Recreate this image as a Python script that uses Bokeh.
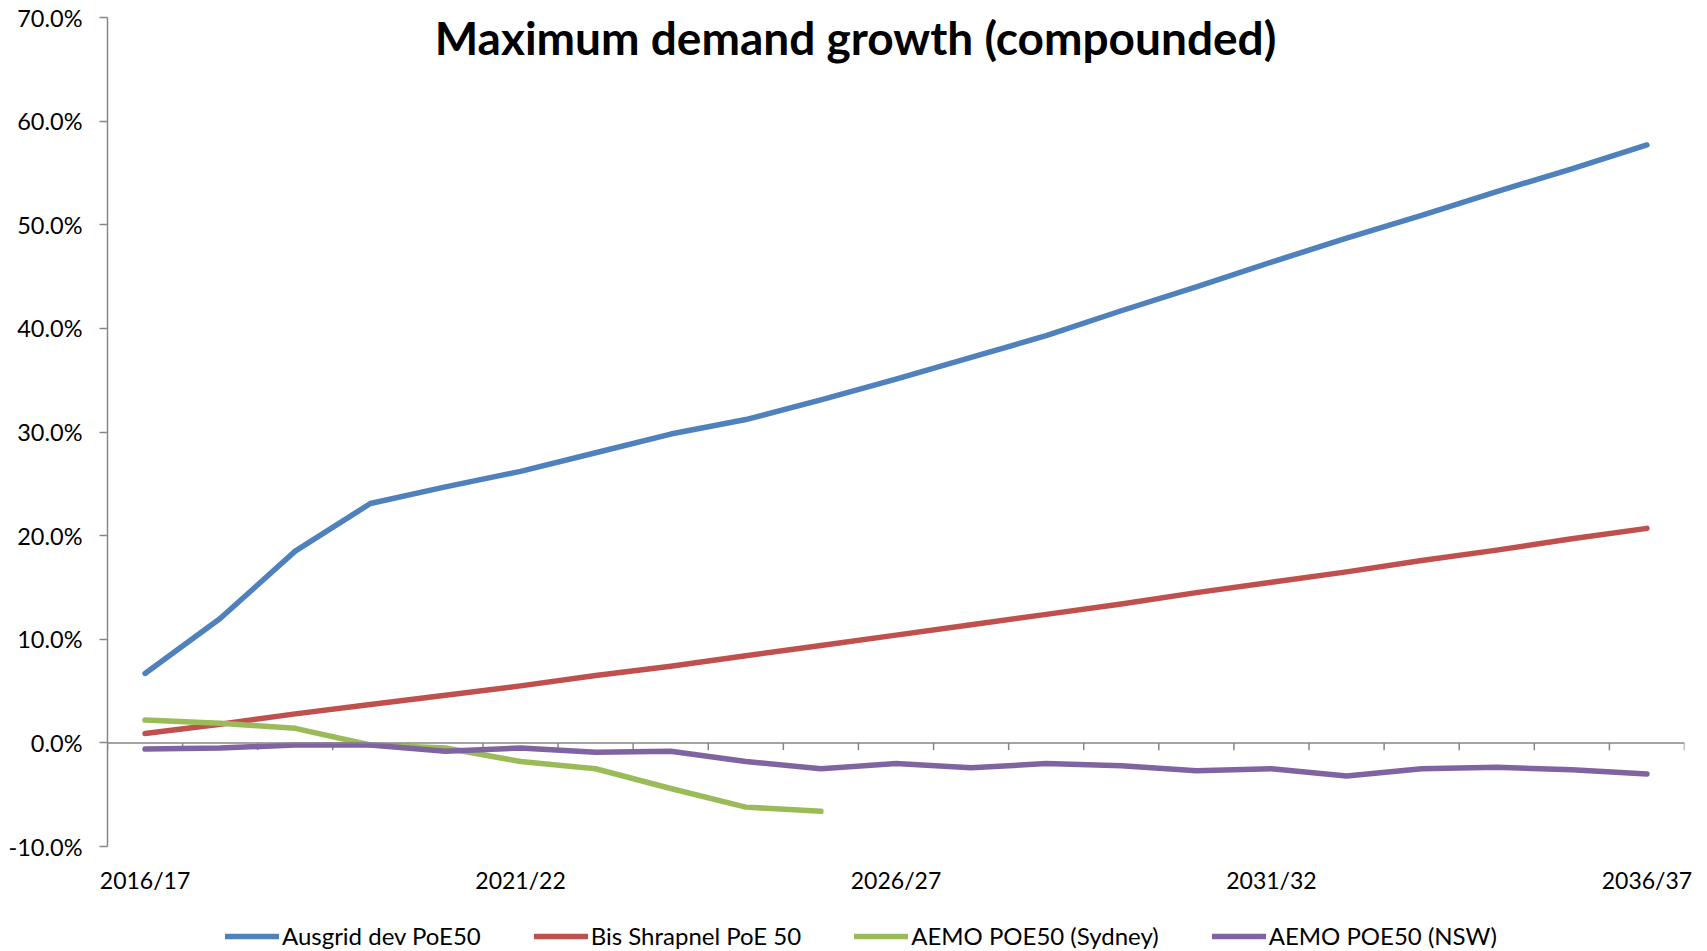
from bokeh.plotting import figure
from bokeh.models import (Range1d, FixedTicker, PrintfTickFormatter, Span, Label,
                          Legend, LegendItem)
from bokeh.layouts import column
from bokeh.embed import file_html
from bokeh.resources import INLINE

categories = ["2016/17", "2017/18", "2018/19", "2019/20", "2020/21", "2021/22", "2022/23",
              "2023/24", "2024/25", "2025/26", "2026/27", "2027/28", "2028/29", "2029/30",
              "2030/31", "2031/32", "2032/33", "2033/34", "2034/35", "2035/36", "2036/37"]
ausgrid = [6.7, 12.0, 18.5, 23.1, 24.7, 26.2, 28.0, 29.8, 31.2, 33.1, 35.1, 37.2, 39.3,
           41.7, 44.0, 46.4, 48.7, 50.9, 53.2, 55.4, 57.7]
bis = [0.9, 1.8, 2.8, 3.7, 4.6, 5.5, 6.5, 7.4, 8.4, 9.4, 10.4, 11.4, 12.4, 13.4, 14.5,
       15.5, 16.5, 17.6, 18.6, 19.7, 20.7]
aemo_syd = [2.2, 1.9, 1.4, -0.2, -0.5, -1.8, -2.5, -4.4, -6.2, -6.6]
aemo_nsw = [-0.6, -0.5, -0.2, -0.2, -0.8, -0.5, -0.9, -0.8, -1.8, -2.5, -2.0, -2.4, -2.0,
            -2.2, -2.7, -2.5, -3.2, -2.5, -2.35, -2.6, -3.0]
series_names = ["Ausgrid dev PoE50", "Bis Shrapnel PoE 50", "AEMO POE50 (Sydney)", "AEMO POE50 (NSW)"]
y_ticks = [-10, 0, 10, 20, 30, 40, 50, 60, 70]
x_label_idx = [0, 5, 10, 15, 20]

colors = ["#4F81BD", "#C0504D", "#9BBB59", "#8064A2"]
FONT = "Lato"
GRAY = "#868686"
LW = 5.5

p = figure(width=1707, height=911, output_backend="svg", toolbar_location=None,
           x_range=Range1d(-0.5, len(categories) - 0.5), y_range=Range1d(-10, 70),
           min_border_left=107, min_border_right=23, min_border_top=17, min_border_bottom=65)
p.outline_line_color = None
p.grid.visible = False
p.background_fill_color = "white"
p.border_fill_color = "white"

# y axis
p.yaxis.ticker = FixedTicker(ticks=y_ticks)
p.yaxis.formatter = PrintfTickFormatter(format="%.1f%%")
p.yaxis.axis_line_color = GRAY
p.yaxis.axis_line_width = 1.5
p.yaxis.major_tick_line_color = GRAY
p.yaxis.major_tick_line_width = 1.5
p.yaxis.major_tick_out = 8
p.yaxis.major_tick_in = 0
p.yaxis.minor_tick_line_color = None
p.yaxis.major_label_standoff = 17
p.yaxis.major_label_text_font = FONT
p.yaxis.major_label_text_font_size = "23.5px"
p.yaxis.major_label_text_color = "black"

# x axis (labels only)
p.xaxis.ticker = FixedTicker(ticks=x_label_idx)
p.xaxis.major_label_overrides = {i: categories[i] for i in x_label_idx}
p.xaxis.axis_line_color = None
p.xaxis.major_tick_line_color = None
p.xaxis.minor_tick_line_color = None
p.xaxis.major_label_standoff = 13
p.xaxis.major_label_text_font = FONT
p.xaxis.major_label_text_font_size = "23px"
p.xaxis.major_label_text_color = "black"

# category axis line at zero with boundary ticks
p.add_layout(Span(location=0, dimension="width", line_color=GRAY, line_width=1.5))
bounds = [i - 0.5 for i in range(len(categories) + 1)]
p.segment(x0=bounds, y0=[0] * len(bounds), x1=bounds, y1=[-0.7] * len(bounds),
          line_color=GRAY, line_width=1.5)

xs = list(range(len(categories)))
for vals, c in zip([ausgrid, bis, aemo_syd, aemo_nsw], colors):
    p.line(x=xs[:len(vals)], y=vals, line_color=c, line_width=LW, line_cap="round",
           line_join="round")

title = Label(x=748, y=809, x_units="screen", y_units="screen",
              text="Maximum demand growth (compounded)", text_align="center",
              text_baseline="middle", text_font=FONT, text_font_size="46px",
              text_font_style="bold", text_color="black")
p.add_layout(title)

# legend strip below the chart (its frame is aligned with the chart's frame)
lg = figure(width=1707, height=40, output_backend="svg", toolbar_location=None,
            x_range=Range1d(0, 1), y_range=Range1d(0, 1), min_border=0)
lg.axis.visible = False
lg.grid.visible = False
lg.outline_line_color = None
lg.border_fill_color = "white"
# off-screen proxy lines that only provide the legend swatches
lg_renderers = [lg.line(x=[5, 6], y=[5, 5], line_color=c, line_width=LW, line_cap="round")
                for c in colors]
legend = Legend(items=[LegendItem(label=n, renderers=[r]) for n, r in zip(series_names, lg_renderers)],
                orientation="horizontal", location=(118, 1),
                glyph_width=54, glyph_height=20, label_standoff=3, spacing=53,
                padding=0, margin=0, border_line_color=None, background_fill_alpha=0,
                label_text_font=FONT, label_text_font_size="24px", label_text_color="black")
lg.add_layout(legend, "center")

layout = column(p, lg, spacing=0)
open("out.html", "w").write(file_html(layout, INLINE))
